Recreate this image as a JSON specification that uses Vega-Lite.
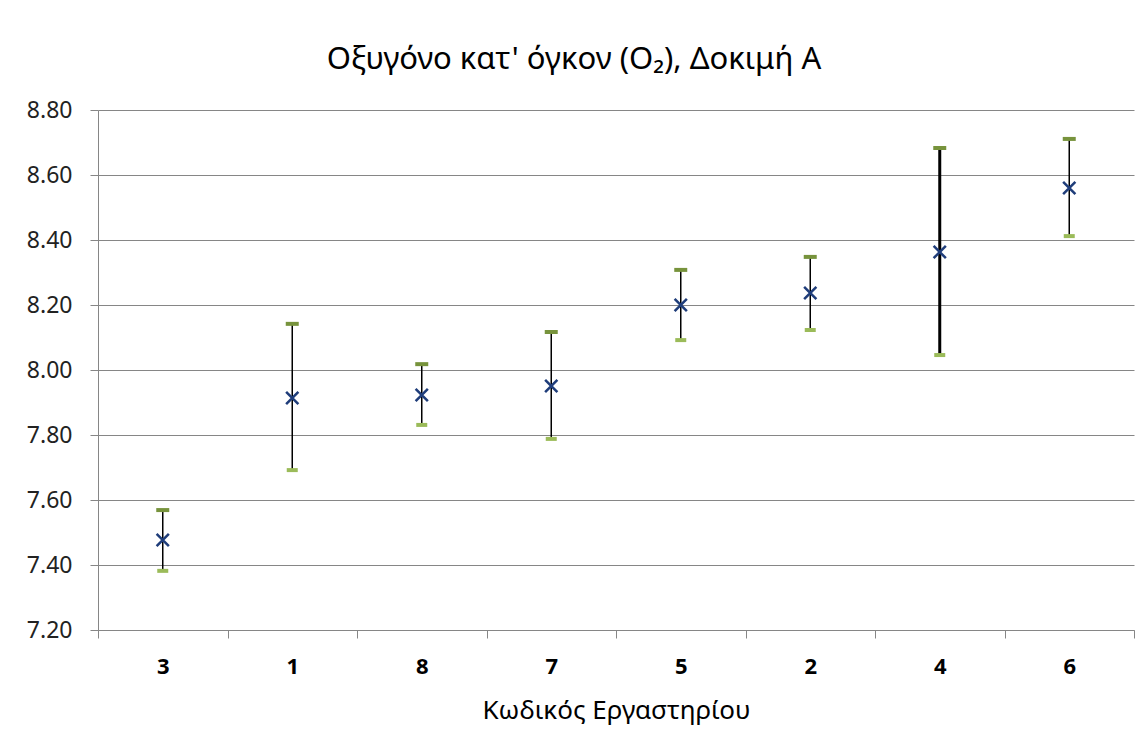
{
  "$schema": "https://vega.github.io/schema/vega-lite/v6.json",
  "autosize": {"type": "none"},
  "width": 1036,
  "height": 520,
  "padding": {"left": 98, "top": 110, "right": 14, "bottom": 126},
  "background": "white",
  "title": {
    "text": "Οξυγόνο κατ' όγκον (O₂), Δοκιμή Α",
    "font": "Noto Sans",
    "fontSize": 31,
    "fontWeight": "normal",
    "color": "#000000",
    "anchor": "middle",
    "dx": -42,
    "offset": 23
  },
  "data": {
    "values": [
      {"lab": "3", "low": 7.382, "mean": 7.477, "high": 7.569},
      {"lab": "1", "low": 7.692, "mean": 7.914, "high": 8.142},
      {"lab": "8", "low": 7.831, "mean": 7.923, "high": 8.018},
      {"lab": "7", "low": 7.788, "mean": 7.951, "high": 8.117},
      {"lab": "5", "low": 8.092, "mean": 8.200, "high": 8.308},
      {"lab": "2", "low": 8.123, "mean": 8.237, "high": 8.348},
      {"lab": "4", "low": 8.046, "mean": 8.363, "high": 8.683},
      {"lab": "6", "low": 8.412, "mean": 8.560, "high": 8.711}
    ]
  },
  "config": {
    "view": {"stroke": null},
    "axis": {
      "labelFont": "Noto Sans",
      "titleFont": "Noto Sans",
      "domainColor": "#868686",
      "tickColor": "#868686",
      "gridColor": "#868686",
      "labelColor": "#222222",
      "titleColor": "#000000"
    }
  },
  "encoding": {
    "x": {
      "field": "lab",
      "type": "nominal",
      "sort": ["3", "1", "8", "7", "5", "2", "4", "6"],
      "scale": {"paddingInner": 0, "paddingOuter": 0},
      "axis": {
        "title": "Κωδικός Εργαστηρίου",
        "titleFontSize": 26,
        "titleFontWeight": "normal",
        "titlePadding": 20,
        "labelAngle": 0,
        "labelFontSize": 22,
        "labelFontWeight": "bold",
        "labelColor": "#000000",
        "labelPadding": 18,
        "tickBand": "extent",
        "tickSize": 8,
        "grid": false
      }
    }
  },
  "layer": [
    {
      "mark": {"type": "rule", "color": "#000000"},
      "encoding": {
        "y": {
          "field": "low",
          "type": "quantitative",
          "scale": {"domain": [7.2, 8.8], "nice": false, "zero": false},
          "axis": {
            "title": null,
            "values": [7.2, 7.4, 7.6, 7.8, 8.0, 8.2, 8.4, 8.6, 8.8],
            "format": ".2f",
            "labelFontSize": 23,
            "labelPadding": 18,
            "tickSize": 8,
            "grid": true,
            "gridWidth": 1
          }
        },
        "y2": {"field": "high"},
        "strokeWidth": {
          "condition": {"test": "datum.lab === '4'", "value": 3},
          "value": 1.5
        }
      }
    },
    {
      "mark": {"type": "tick", "color": "#77933C", "size": 13, "thickness": 4, "opacity": 1},
      "encoding": {"y": {"field": "high", "type": "quantitative"}}
    },
    {
      "mark": {"type": "tick", "color": "#9BBB59", "size": 11, "thickness": 4, "opacity": 1},
      "encoding": {"y": {"field": "low", "type": "quantitative"}}
    },
    {
      "mark": {
        "type": "point",
        "shape": "M-1,-1L1,1M-1,1L1,-1",
        "filled": false,
        "stroke": "#1F3D7A",
        "strokeWidth": 2.5,
        "size": 150,
        "opacity": 1
      },
      "encoding": {"y": {"field": "mean", "type": "quantitative"}}
    }
  ]
}
